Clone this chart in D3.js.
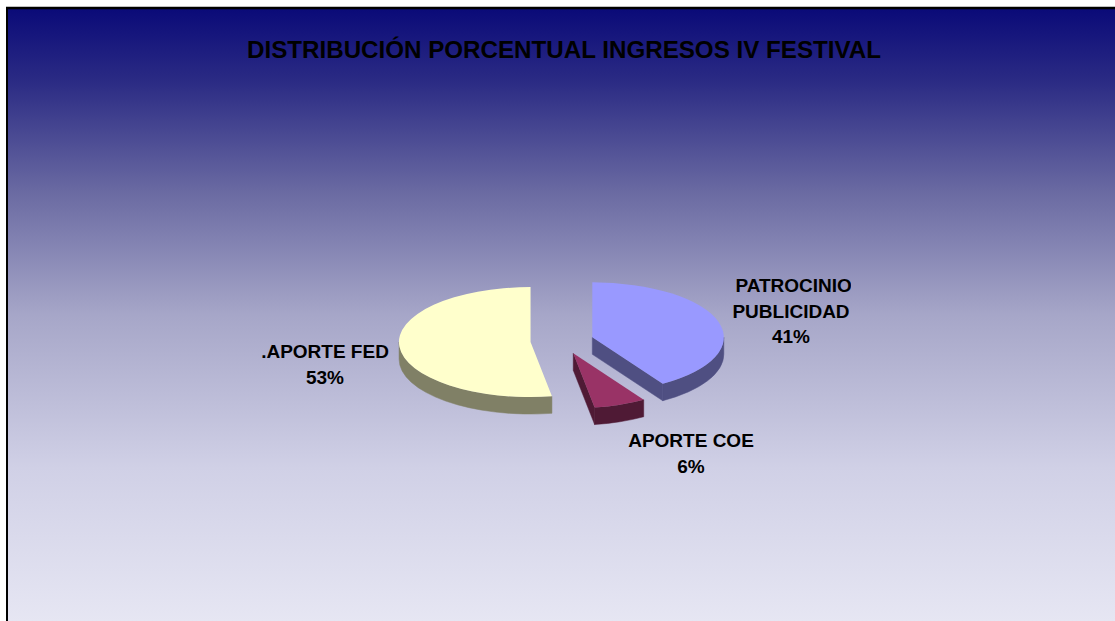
<!DOCTYPE html>
<html>
<head>
<meta charset="utf-8">
<script src="https://cdn.jsdelivr.net/npm/d3@7"></script>
<style>
  html, body { margin: 0; padding: 0; background: #ffffff; }
  svg { display: block; }
  text { font-family: "Liberation Sans", Arial, sans-serif; font-weight: bold; fill: #000; }
</style>
</head>
<body>
<svg id="chart" width="1115" height="621"></svg>
<script>
// ---- data ----
const title = "DISTRIBUCIÓN PORCENTUAL INGRESOS IV FESTIVAL";
const categories = ["PATROCINIO PUBLICIDAD", "APORTE COE", ".APORTE FED"];
const labelLines = [["\u00a0PATROCINIO", "PUBLICIDAD"], ["APORTE COE"], [".APORTE FED"]];
const values = [41.0, 6.4, 52.6];
const percentLabels = ["41%", "6%", "53%"];

// ---- styles / layout ----
const topColors  = ["#9999ff", "#993366", "#ffffcc"];
const sideColors = ["#4f4f82", "#4f1a35", "#808066"];
const W = 1115, H = 621;
const cx = 562, cy = 341, rx = 131.5, ry = 55, depth = 17, explode = 0.24;
// label anchors (first baseline, centre x) per slice
const labelAnchors = [[791, 292], [691, 447], [325, 358]];
const lineH = 25.5;

const svg = d3.select("#chart");
const defs = svg.append("defs");
const grad = defs.append("linearGradient").attr("id", "bg")
  .attr("x1", 0).attr("y1", 0).attr("x2", 0).attr("y2", 1);
[[0, "#0a0a78"], [0.12, "#2b2b84"], [0.3, "#6a6aa2"], [0.5, "#a6a6c8"], [0.75, "#d0d0e6"], [1, "#e6e6f3"]]
  .forEach(([o, c]) => grad.append("stop").attr("offset", o).attr("stop-color", c));
defs.append("clipPath").attr("id", "lblclip").append("rect")
  .attr("x", 0).attr("y", 0).attr("width", 851).attr("height", H);

svg.append("rect").attr("x", 7).attr("y", 8).attr("width", W - 7).attr("height", H - 8)
  .attr("fill", "url(#bg)");
svg.append("line").attr("x1", 7).attr("x2", 7).attr("y1", 7).attr("y2", H)
  .attr("stroke", "#000").attr("stroke-width", 2);
svg.append("line").attr("x1", 6).attr("x2", W).attr("y1", 8).attr("y2", 8)
  .attr("stroke", "#000").attr("stroke-width", 2.5);

svg.append("text").attr("x", 564).attr("y", 58).attr("text-anchor", "middle")
  .attr("font-size", 24).attr("textLength", 634).attr("lengthAdjust", "spacingAndGlyphs")
  .text(title);

// ---- pie ----
const pie = d3.pie().sort(null).startAngle(0).endAngle(2 * Math.PI).value(d => d);
const arcs = pie(values);

const pt = (c, t, dz = 0) => [c[0] + rx * Math.sin(t), c[1] - ry * Math.cos(t) + dz];
const centerOf = a => {
  const m = (a.startAngle + a.endAngle) / 2;
  return [cx + explode * rx * Math.sin(m), cy - explode * ry * Math.cos(m)];
};
const fmt = p => p[0].toFixed(2) + "," + p[1].toFixed(2);

const sides = svg.append("g");
const tops = svg.append("g");

arcs.forEach((a, i) => {
  const c = centerOf(a);
  const a0 = a.startAngle, a1 = a.endAngle;
  // radial cut faces
  const faces = [];
  if (Math.sin(a0) < -1e-6) faces.push(a0);
  if (Math.sin(a1) > 1e-6) faces.push(a1);
  faces.forEach(t => {
    const p = pt(c, t);
    sides.append("path")
      .attr("d", `M${fmt(c)}L${fmt(p)}L${fmt([p[0], p[1] + depth])}L${fmt([c[0], c[1] + depth])}Z`)
      .attr("fill", sideColors[i]).attr("stroke", sideColors[i]).attr("stroke-width", 0.5);
  });
  // outer curved wall (front half only)
  const s0 = Math.max(a0, Math.PI / 2), s1 = Math.min(a1, 3 * Math.PI / 2);
  if (s1 > s0) {
    const p0 = pt(c, s0), p1 = pt(c, s1);
    sides.append("path")
      .attr("d", `M${fmt(p0)}A${rx},${ry} 0 0 1 ${fmt(p1)}L${fmt([p1[0], p1[1] + depth])}` +
                 `A${rx},${ry} 0 0 0 ${fmt([p0[0], p0[1] + depth])}Z`)
      .attr("fill", sideColors[i]).attr("stroke", sideColors[i]).attr("stroke-width", 0.5);
  }
  // top face
  const q0 = pt(c, a0), q1 = pt(c, a1);
  const large = (a1 - a0) > Math.PI ? 1 : 0;
  tops.append("path")
    .attr("d", `M${fmt(c)}L${fmt(q0)}A${rx},${ry} 0 ${large} 1 ${fmt(q1)}Z`)
    .attr("fill", topColors[i]);
});

// ---- labels ----
const lg = svg.append("g").attr("font-size", 19).attr("text-anchor", "middle");
labelLines.forEach((lines, i) => {
  const [x, y] = labelAnchors[i];
  const t = lg.append("text").attr("x", x).attr("y", y);
  if (i === 0) t.attr("clip-path", "url(#lblclip)");
  lines.concat([percentLabels[i]]).forEach((s, k) => {
    t.append("tspan").attr("x", x).attr("y", y + k * lineH).text(s);
  });
});
</script>
</body>
</html>
